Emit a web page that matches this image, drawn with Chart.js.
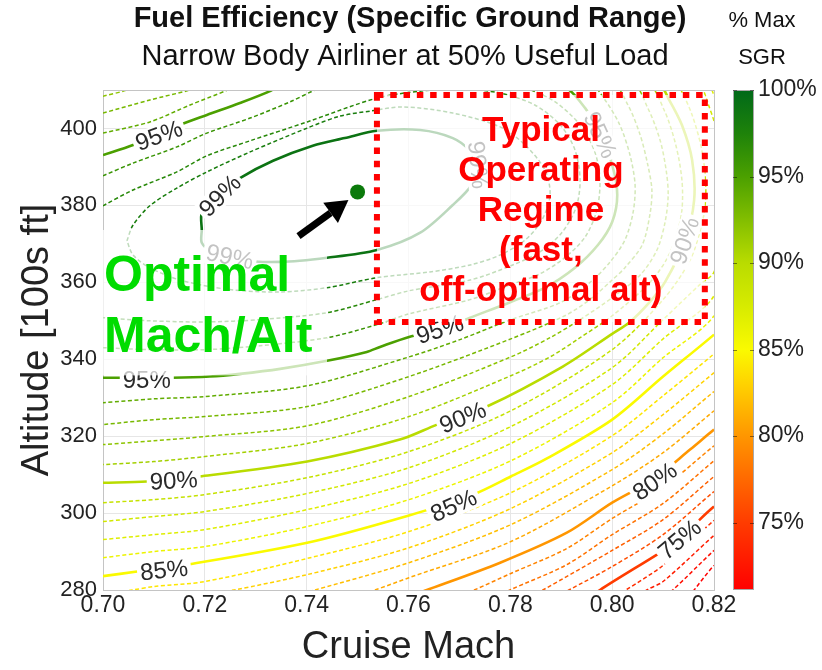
<!DOCTYPE html>
<html><head><meta charset="utf-8">
<script src="https://cdn.jsdelivr.net/npm/chart.js@4.4.0/dist/chart.umd.min.js"></script>
<style>html,body{margin:0;padding:0;background:#fff;}canvas{display:block;}</style>
</head><body>
<canvas id="c" width="822" height="670"></canvas>
<script>
const FONT = '"Liberation Sans", Arial, Helvetica, sans-serif';

// ---- axis ticks ----
const machTicks = [0.70, 0.72, 0.74, 0.76, 0.78, 0.80, 0.82];
const altTicks = [280, 300, 320, 340, 360, 380, 400];
const sgrTicks = [75, 80, 85, 90, 95, 100];
const solidLevels = [75, 80, 85, 90, 95, 99];

// ---- contour lines (% max SGR): [Mach, altitude in 100s ft] ----
const c99 = [[0.7194,373.6],[0.7194,378.1],[0.7214,380.6],[0.7240,384.0],[0.7269,387.1],[0.7334,391.6],[0.7412,395.5],[0.7475,397.5],[0.7538,399.4],[0.7623,399.6],[0.7687,397.5],[0.7721,394.2],[0.7736,390.5],[0.7724,385.3],[0.7687,380.1],[0.7623,372.9],[0.7538,368.4],[0.7440,366.4],[0.7348,365.3],[0.7269,365.8],[0.7214,367.9],[0.7194,370.3],[0.7194,373.6]];
const c98 = [[0.7047,370.8],[0.7059,374.9],[0.7092,379.9],[0.7145,384.5],[0.7204,388.7],[0.7289,393.9],[0.7401,400.1],[0.7465,403.2],[0.7524,404.5],[0.7589,405.6],[0.7687,404.0],[0.7780,400.4],[0.7829,395.7],[0.7868,389.2],[0.7878,382.7],[0.7862,376.2],[0.7829,371.0],[0.7780,367.1],[0.7721,364.5],[0.7642,362.7],[0.7538,361.2],[0.7440,358.6],[0.7348,357.5],[0.7249,358.1],[0.7151,360.6],[0.7092,363.8],[0.7059,367.1],[0.7047,370.8]];
const c97 = [[0.7000,379.9],[0.7059,384.0],[0.7145,388.7],[0.7204,392.9],[0.7289,396.8],[0.7401,401.7],[0.7538,407.9],[0.7623,409.7],[0.7701,410.3],[0.7780,409.2],[0.7848,406.1],[0.7898,400.9],[0.7927,394.4],[0.7937,386.6],[0.7929,379.4],[0.7901,372.9],[0.7858,367.9],[0.7801,364.3],[0.7721,360.6],[0.7601,357.8],[0.7538,355.5],[0.7440,352.1],[0.7308,350.3],[0.7204,349.7],[0.7092,350.0],[0.7000,350.8]];
const c96 = [[0.7000,387.7],[0.7059,391.0],[0.7145,395.2],[0.7204,398.8],[0.7289,402.7],[0.7367,406.9],[0.7416,410.0],[0.7446,411.6],[0.7700,414.0],[0.7829,410.5],[0.7888,406.9],[0.7937,400.9],[0.7966,393.9],[0.7976,386.6],[0.7970,378.8],[0.7947,371.8],[0.7907,366.4],[0.7858,362.2],[0.7801,359.4],[0.7721,355.5],[0.7601,351.8],[0.7538,349.0],[0.7440,345.6],[0.7308,343.5],[0.7204,342.5],[0.7092,342.5],[0.7000,343.0]];
const c95 = [[0.7000,393.1],[0.7059,395.7],[0.7151,400.9],[0.7204,403.5],[0.7269,406.6],[0.7328,409.7],[0.7348,411.3],[0.7623,415.2],[0.7898,411.3],[0.7947,405.3],[0.7976,398.3],[0.8000,390.5],[0.8010,382.7],[0.8000,375.7],[0.7972,369.7],[0.7927,363.8],[0.7868,358.6],[0.7801,354.9],[0.7721,350.8],[0.7662,347.7],[0.7601,345.8],[0.7544,343.2],[0.7518,341.9],[0.7440,339.6],[0.7348,337.5],[0.7269,336.2],[0.7210,335.5],[0.7136,335.2],[0.7033,335.2],[0.7000,335.2]];
const c94 = [[0.7000,398.8],[0.7092,401.7],[0.7171,406.1],[0.7245,410.0],[0.7269,411.6],[0.7623,416.5],[0.7956,411.6],[0.7986,407.4],[0.8015,400.9],[0.8035,393.1],[0.8045,385.3],[0.8041,378.1],[0.8025,371.0],[0.7996,365.3],[0.7956,359.9],[0.7898,354.7],[0.7801,350.3],[0.7701,345.1],[0.7601,340.6],[0.7401,333.1],[0.7200,330.3],[0.7100,329.7],[0.7000,328.7]];
const c93 = [[0.7000,404.0],[0.7092,407.4],[0.7171,410.0],[0.7190,411.0],[0.7623,417.8],[0.8000,411.6],[0.8031,406.1],[0.8055,398.3],[0.8070,390.5],[0.8078,384.0],[0.8074,377.5],[0.8059,369.7],[0.8025,363.8],[0.8000,360.6],[0.7956,355.5],[0.7907,351.3],[0.7801,345.3],[0.7601,335.5],[0.7401,327.7],[0.7200,325.1],[0.7100,324.3],[0.7000,323.0]];
const c92 = [[0.7000,408.4],[0.7047,410.0],[0.7063,411.3],[0.7623,419.0],[0.8039,411.6],[0.8070,405.3],[0.8094,397.0],[0.8106,389.2],[0.8110,382.7],[0.8104,375.7],[0.8088,368.4],[0.8055,361.9],[0.8000,356.0],[0.7937,350.3],[0.7878,345.6],[0.7801,340.6],[0.7601,330.3],[0.7401,322.7],[0.7200,319.9],[0.7100,318.8],[0.7000,317.8]];
const c91 = [[0.7000,413.0],[0.7600,421.0],[0.8068,411.6],[0.8102,404.8],[0.8125,395.7],[0.8137,386.6],[0.8137,378.8],[0.8125,371.6],[0.8104,365.3],[0.8070,359.4],[0.8000,351.3],[0.7937,345.6],[0.7878,340.6],[0.7801,335.7],[0.7601,325.1],[0.7401,318.1],[0.7200,314.7],[0.7100,313.4],[0.7000,312.6]];
const c90 = [[0.7000,307.9],[0.7086,308.2],[0.7190,309.5],[0.7401,313.4],[0.7583,319.1],[0.7656,323.0],[0.7754,327.7],[0.7903,338.1],[0.8000,346.6],[0.8035,349.7],[0.8074,354.9],[0.8104,360.1],[0.8143,370.8],[0.8161,381.4],[0.8157,391.8],[0.8137,400.9],[0.8110,407.9],[0.8094,411.0],[0.7600,422.0]];
const c89 = [[0.7000,302.7],[0.7100,303.5],[0.7200,304.8],[0.7401,309.2],[0.7601,316.0],[0.7801,326.6],[0.8000,342.5],[0.8100,355.5],[0.8153,365.8],[0.8178,376.2],[0.8184,384.0],[0.8176,394.4],[0.8157,403.5],[0.8133,410.5],[0.8118,412.6]];
const c88 = [[0.7000,297.8],[0.7100,299.1],[0.7200,300.4],[0.7401,305.1],[0.7601,311.8],[0.7801,322.5],[0.8000,337.8],[0.8100,350.3],[0.8172,359.4],[0.8200,362.7],[0.8220,376.2],[0.8220,389.2],[0.8204,400.1],[0.8186,407.4],[0.8176,411.3]];
const c87 = [[0.7000,293.1],[0.7100,294.4],[0.7200,295.7],[0.7401,300.9],[0.7601,307.7],[0.7801,318.1],[0.8000,333.4],[0.8100,345.3],[0.8200,356.5],[0.8241,376.2],[0.8241,394.4],[0.8216,404.8],[0.8200,408.7],[0.8192,411.3]];
const c86 = [[0.7000,288.4],[0.7100,290.0],[0.7200,291.3],[0.7401,296.5],[0.7601,303.5],[0.7801,313.6],[0.8000,328.7],[0.8100,340.4],[0.8200,351.3],[0.8251,368.4]];
const c85 = [[0.7000,283.6],[0.7067,284.8],[0.7165,286.6],[0.7401,292.3],[0.7601,299.4],[0.7727,304.8],[0.7801,309.5],[0.7872,314.2],[0.8000,324.3],[0.8100,335.5],[0.8200,346.4],[0.8231,350.3]];
const c84 = [[0.7000,279.1],[0.7057,280.0],[0.7100,280.9],[0.7200,282.2],[0.7401,288.2],[0.7601,295.2],[0.7801,305.3],[0.8000,320.1],[0.8100,330.5],[0.8200,341.4],[0.8231,345.1]];
const c83 = [[0.7190,278.6],[0.7257,280.0],[0.7401,284.0],[0.7601,291.0],[0.7801,301.2],[0.8000,315.7],[0.8100,325.6],[0.8200,336.5],[0.8231,339.9]];
const c82 = [[0.7367,278.3],[0.7416,280.0],[0.7601,287.1],[0.7801,297.0],[0.8000,311.3],[0.8100,320.6],[0.8200,331.6],[0.8231,334.7]];
const c81 = [[0.7485,278.1],[0.7534,280.0],[0.7601,283.2],[0.7801,292.6],[0.8000,307.1],[0.8100,315.7],[0.8200,326.6],[0.8231,330.0]];
const c80 = [[0.7583,277.5],[0.7636,280.0],[0.7780,287.1],[0.7911,294.9],[0.8000,302.7],[0.8080,308.7],[0.8153,316.5],[0.8200,321.7],[0.8231,324.8]];
const c79 = [[0.7681,277.5],[0.7729,280.0],[0.7801,284.3],[0.7911,290.8],[0.8000,298.6],[0.8100,306.6],[0.8200,317.5],[0.8231,320.6]];
const c78 = [[0.7760,277.5],[0.7799,280.0],[0.7911,286.6],[0.8000,294.4],[0.8100,302.5],[0.8200,313.6],[0.8231,316.8]];
const c77 = [[0.7829,277.5],[0.7864,280.0],[0.8000,290.3],[0.8100,298.3],[0.8200,309.5],[0.8231,312.6]];
const c76 = [[0.7878,277.5],[0.7915,280.0],[0.8000,286.1],[0.8100,294.4],[0.8200,305.6],[0.8231,308.7]];
const c75 = [[0.7937,276.2],[0.7976,280.0],[0.8088,289.2],[0.8133,293.1],[0.8172,298.3],[0.8200,301.7],[0.8231,304.8]];
const c74 = [[0.7996,277.5],[0.8027,280.0],[0.8100,286.4],[0.8200,298.1],[0.8231,301.4]];
const c73 = [[0.8045,277.5],[0.8068,280.0],[0.8100,282.2],[0.8200,294.2],[0.8231,297.5]];
const c72 = [[0.8094,277.5],[0.8119,280.0],[0.8200,290.3],[0.8231,293.9]];
const c71 = [[0.8143,277.0],[0.8161,280.0],[0.8200,286.4],[0.8231,290.0]];

const contourLevels = [99,98,97,96,95,94,93,92,91,90,89,88,87,86,85,84,83,82,81,80,79,78,77,76,75,74,73,72,71];
const contourPaths  = [c99,c98,c97,c96,c95,c94,c93,c92,c91,c90,c89,c88,c87,c86,c85,c84,c83,c82,c81,c80,c79,c78,c77,c76,c75,c74,c73,c72,c71];

// optimal cruise point
const optimumMach = [0.750];
const optimumAlt = [383.5];

// contour labels
const labelTexts  = ['95%','99%','99%','99%','95%','90%','95%','95%','90%','90%','85%','85%','80%','75%'];
const labelMach   = [0.7110,0.7230,0.7249,0.7736,0.7976,0.8143,0.7662,0.7086,0.7139,0.7707,0.7120,0.7689,0.8084,0.8133];
const labelAlt    = [398.1,382.5,366.6,390.5,398.3,370.8,347.7,334.4,308.4,324.8,285.1,301.9,308.2,293.1];
const labelAngle  = [-20,-45,12,85,65,-72,-18,0,-3,-22,-6,-24,-35,-40];

// colour scale
const cmapValues = [71.1, 75, 80, 83, 85, 87.5, 90, 92.5, 95, 97.5, 100];
const cmapColors = [[255,0,0],[255,60,0],[255,150,0],[255,210,0],[250,250,0],[215,235,0],[185,220,0],[130,190,0],[75,160,0],[30,130,10],[0,105,25]];
const cbMin = 71.1, cbMax = 100;

// annotations
const boxMach = [0.7538, 0.8182], boxAlt = [349.7, 408.7];
const optBoxMach = [0.700, 0.7440], optBoxAlt = [335.8, 373.6];
const arrowFrom = [0.7384, 372.0], arrowTo = [0.7482, 381.4];

function colorAt(v){
  v = Math.max(cmapValues[0], Math.min(cmapValues[cmapValues.length-1], v));
  for (let i=0;i<cmapValues.length-1;i++){
    if (v <= cmapValues[i+1]){
      const t = (v-cmapValues[i])/(cmapValues[i+1]-cmapValues[i]);
      const a = cmapColors[i], b = cmapColors[i+1];
      return `rgb(${Math.round(a[0]+(b[0]-a[0])*t)},${Math.round(a[1]+(b[1]-a[1])*t)},${Math.round(a[2]+(b[2]-a[2])*t)})`;
    }
  }
  return 'rgb(0,105,25)';
}

Chart.defaults.font.family = FONT;

const datasets = contourLevels.map((lv, i) => {
  const solid = solidLevels.includes(lv);
  return {
    label: lv + '%',
    data: contourPaths[i].map(p => ({x: p[0], y: p[1]})),
    showLine: true,
    pointRadius: 0,
    borderColor: colorAt(lv),
    borderWidth: solid ? 2.6 : 1.5,
    borderDash: solid ? [] : [4, 2.5],
    tension: 0.3,
    clip: 0,
    xAxisID: 'x', yAxisID: 'y'
  };
});
datasets.push({
  label: 'Optimum',
  data: optimumMach.map((m, i) => ({x: m, y: optimumAlt[i]})),
  pointRadius: 7.5, pointBackgroundColor: '#0b7a0b', pointBorderWidth: 0,
  showLine: false, xAxisID: 'x', yAxisID: 'y'
});

const decor = {
  id: 'decor',
  afterDatasetsDraw(chart){
    const ctx = chart.ctx, ca = chart.chartArea;
    const X = v => chart.scales.x.getPixelForValue(v);
    const Y = v => chart.scales.y.getPixelForValue(v);
    // contour labels
    ctx.save();
    ctx.beginPath(); ctx.rect(ca.left, ca.top, ca.right-ca.left, ca.bottom-ca.top); ctx.clip();
    ctx.font = `24px ${FONT}`; ctx.textAlign = 'center'; ctx.textBaseline = 'middle';
    labelTexts.forEach((t, i) => {
      ctx.save();
      ctx.translate(X(labelMach[i]), Y(labelAlt[i]));
      ctx.rotate(labelAngle[i]*Math.PI/180);
      const w = ctx.measureText(t).width;
      ctx.fillStyle = '#fff';
      ctx.fillRect(-w/2-3, -11, w+6, 22);
      ctx.fillStyle = '#2a2a2a';
      ctx.fillText(t, 0, 1);
      ctx.restore();
    });
    // translucent panels
    ctx.fillStyle = 'rgba(255,255,255,0.72)';
    ctx.fillRect(X(optBoxMach[0]), Y(optBoxAlt[1]), X(optBoxMach[1])-X(optBoxMach[0]), Y(optBoxAlt[0])-Y(optBoxAlt[1]));
    const bx0 = X(boxMach[0]), bx1 = X(boxMach[1]), by0 = Y(boxAlt[1]), by1 = Y(boxAlt[0]);
    ctx.fillRect(bx0, by0, bx1-bx0, by1-by0);
    ctx.restore();
    // red dotted box
    ctx.save();
    ctx.strokeStyle = '#ff0000'; ctx.lineWidth = 6; ctx.setLineDash([6.5, 6.8]);
    ctx.strokeRect(bx0, by0, bx1-bx0, by1-by0);
    ctx.setLineDash([]);
    ctx.fillStyle = '#ff0000'; ctx.font = `bold 35px ${FONT}`;
    ctx.textAlign = 'center'; ctx.textBaseline = 'middle';
    ['Typical','Operating','Regime','(fast,','off-optimal alt)'].forEach((s, i) => {
      ctx.fillText(s, (bx0+bx1)/2, by0 + 36 + i*40);
    });
    // Optimal Mach/Alt
    ctx.fillStyle = '#00dc00'; ctx.font = `bold 50px ${FONT}`;
    ctx.textAlign = 'left'; ctx.textBaseline = 'alphabetic';
    ctx.fillText('Optimal', ca.left + 1, 291);
    ctx.fillText('Mach/Alt', ca.left + 1, 352);
    // arrow
    const x0 = X(arrowFrom[0]), y0 = Y(arrowFrom[1]), x1 = X(arrowTo[0]), y1 = Y(arrowTo[1]);
    const ang = Math.atan2(y1-y0, x1-x0), head = 22, hw = 12.5;
    const hx = x1 - head*Math.cos(ang), hy = y1 - head*Math.sin(ang);
    ctx.strokeStyle = '#000'; ctx.fillStyle = '#000'; ctx.lineWidth = 7;
    ctx.beginPath(); ctx.moveTo(x0, y0); ctx.lineTo(hx, hy); ctx.stroke();
    ctx.beginPath(); ctx.moveTo(x1, y1);
    ctx.lineTo(hx + hw*Math.sin(ang), hy - hw*Math.cos(ang));
    ctx.lineTo(hx - hw*Math.sin(ang), hy + hw*Math.cos(ang));
    ctx.closePath(); ctx.fill();
    ctx.restore();
  },
  afterDraw(chart){
    const ctx = chart.ctx, ca = chart.chartArea, cb = chart.scales.cb;
    ctx.save();
    // top border of axes
    ctx.strokeStyle = '#c4c4c4'; ctx.lineWidth = 1;
    ctx.beginPath(); ctx.moveTo(ca.left, ca.top + 0.5); ctx.lineTo(ca.right, ca.top + 0.5); ctx.stroke();
    // colorbar
    const x0 = ca.right + 19, w = 21;
    const top = cb.getPixelForValue(cbMax), bot = cb.getPixelForValue(cbMin);
    const g = ctx.createLinearGradient(0, bot, 0, top);
    cmapValues.forEach((v, i) => {
      const c = cmapColors[i];
      g.addColorStop((v - cbMin)/(cbMax - cbMin), `rgb(${c[0]},${c[1]},${c[2]})`);
    });
    ctx.fillStyle = g; ctx.fillRect(x0, top, w, bot - top);
    ctx.strokeStyle = '#a8a8a8'; ctx.lineWidth = 1; ctx.strokeRect(x0 + 0.5, top + 0.5, w - 1, bot - top - 1);
    ctx.strokeStyle = 'rgba(0,0,0,0.45)';
    sgrTicks.forEach(v => {
      const yy = Math.round(cb.getPixelForValue(v)) + 0.5;
      ctx.beginPath(); ctx.moveTo(x0, yy); ctx.lineTo(x0 + 4, yy); ctx.moveTo(x0 + w - 4, yy); ctx.lineTo(x0 + w, yy); ctx.stroke();
    });
    // titles
    ctx.fillStyle = '#111'; ctx.textAlign = 'center'; ctx.textBaseline = 'middle';
    ctx.font = `bold 29px ${FONT}`;
    ctx.fillText('Fuel Efficiency (Specific Ground Range)', 410, 19);
    ctx.font = `29px ${FONT}`;
    ctx.fillText('Narrow Body Airliner at 50% Useful Load', 405, 57);
    ctx.font = `22px ${FONT}`;
    ctx.fillText('% Max', 762, 21);
    ctx.fillText('SGR', 762, 58);
    ctx.restore();
  }
};

new Chart(document.getElementById('c'), {
  type: 'scatter',
  data: { datasets },
  options: {
    responsive: false, animation: false,
    layout: { padding: { top: 90, left: 0, right: 0, bottom: 0 } },
    elements: { line: { capBezierPoints: false } },
    plugins: { legend: { display: false }, tooltip: { enabled: false }, title: { display: false } },
    scales: {
      x: {
        type: 'linear', position: 'bottom', min: 0.70, max: 0.82,
        afterBuildTicks: s => { s.ticks = machTicks.map(v => ({value: v})); },
        afterFit: s => { s.height = 80; },
        ticks: { callback: v => Number(v).toFixed(2), font: { size: 23 }, color: '#222', padding: 2, maxRotation: 0, autoSkip: false },
        grid: { color: '#e6e6e6', drawTicks: false },
        border: { color: '#c4c4c4' },
        title: { display: true, text: 'Cruise Mach', font: { size: 38 }, color: '#222', padding: { top: 0, bottom: 0 } }
      },
      y: {
        type: 'linear', position: 'left', min: 280, max: 410,
        afterBuildTicks: s => { s.ticks = altTicks.map(v => ({value: v})); },
        afterFit: s => { s.width = 103; },
        ticks: { font: { size: 22 }, color: '#222', padding: 6, autoSkip: false },
        grid: { color: '#e6e6e6', drawTicks: false },
        border: { color: '#c4c4c4' },
        title: { display: true, text: 'Altitude [100s ft]', font: { size: 38 }, color: '#222', padding: { top: 15, bottom: 0 } }
      },
      cb: {
        type: 'linear', position: 'right', min: cbMin, max: cbMax,
        afterBuildTicks: s => { s.ticks = sgrTicks.map(v => ({value: v})); },
        afterFit: s => { s.width = 108; },
        ticks: { callback: v => v + '%', font: { size: 23 }, color: '#222', padding: 44, autoSkip: false },
        grid: { display: false, drawTicks: false },
        border: { display: true, color: '#c4c4c4' }
      }
    }
  },
  plugins: [decor]
});
</script>
</body></html>
